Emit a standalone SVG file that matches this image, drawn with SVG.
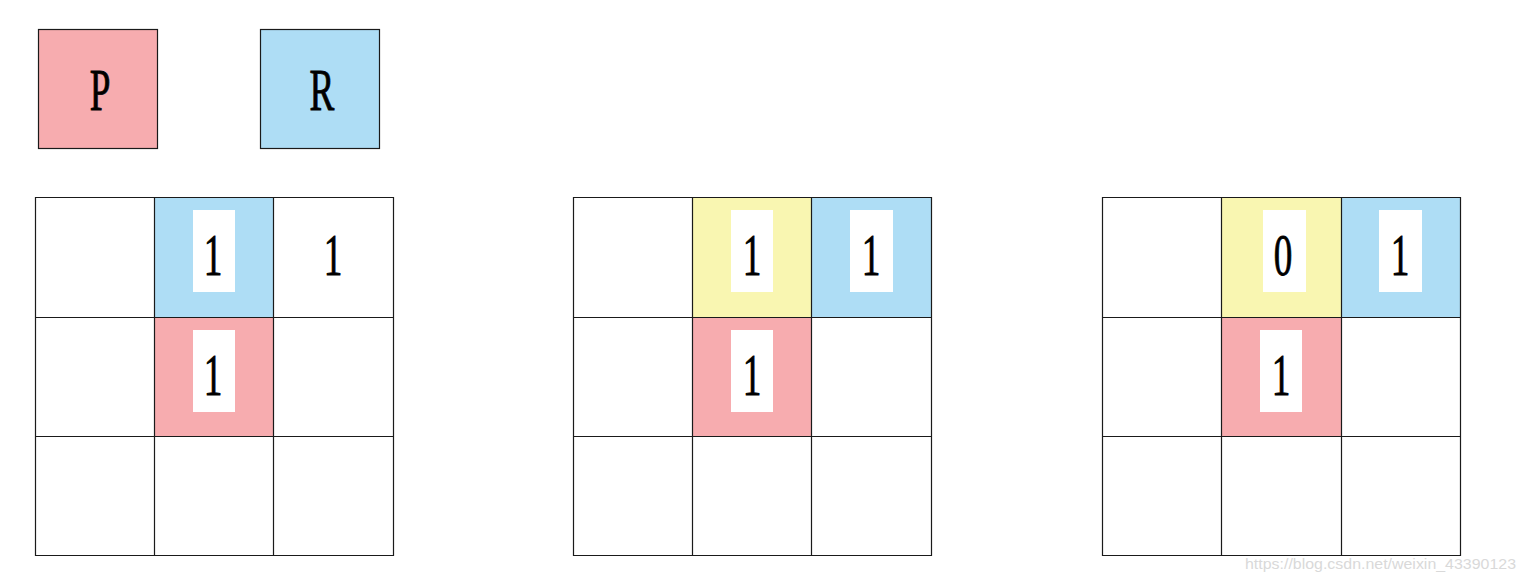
<svg xmlns="http://www.w3.org/2000/svg" width="1526" height="582" viewBox="0 0 1526 582">
<style>
.p{fill:#F7ACAF}
.r{fill:#AEDDF5}
.y{fill:#F9F6B1}
.w{fill:#FFFFFF}
.grid{fill:none;stroke:#1a1a1a;stroke-width:1.2}
.box{stroke:#1a1a1a;stroke-width:1.2}
.t{font-size:60px;fill:#000;stroke:#000;stroke-width:0.9;text-anchor:middle}
.wm{font-family:"Liberation Sans",Arial,sans-serif;font-size:15px;fill:#d9d9d9}
</style>
<rect width="1526" height="582" fill="#fff"/>

<g id="legend-P" font-family="'Liberation Serif', 'Times New Roman', serif">
<rect class="p box" x="38.5" y="29.5" width="119" height="119"/>
<text class="t" transform="translate(100,110) scale(0.62,1)">P</text>
</g>
<g id="legend-R" font-family="'Liberation Serif', 'Times New Roman', serif">
<rect class="r box" x="260.5" y="29.5" width="119" height="119"/>
<text class="t" transform="translate(322,110) scale(0.62,1)">R</text>
</g>

<g id="grid1" font-family="'Liberation Serif', 'Times New Roman', serif">
<rect class="r" x="154.5" y="197.5" width="119" height="120"/>
<rect class="p" x="154.5" y="317.5" width="119" height="119"/>
<rect class="w" x="193" y="210" width="42" height="82"/>
<rect class="w" x="193" y="330" width="42" height="82"/>
<text class="t" transform="translate(213,275) scale(0.62,1)">1</text>
<text class="t" transform="translate(213,395) scale(0.62,1)">1</text>
<text class="t" transform="translate(333,275) scale(0.62,1)">1</text>
<path class="grid" d="M35.5 197.5H393.5V555.5H35.5Z M154.5 197.5V555.5 M273.5 197.5V555.5 M35.5 317.5H393.5 M35.5 436.5H393.5"/>
</g>

<g id="grid2" font-family="'Liberation Serif', 'Times New Roman', serif">
<rect class="y" x="692.5" y="197.5" width="119" height="120"/>
<rect class="r" x="811.5" y="197.5" width="120" height="120"/>
<rect class="p" x="692.5" y="317.5" width="119" height="119"/>
<rect class="w" x="731" y="210" width="42" height="82"/>
<rect class="w" x="850" y="210" width="43" height="82"/>
<rect class="w" x="731" y="330" width="42" height="82"/>
<text class="t" transform="translate(752,275) scale(0.62,1)">1</text>
<text class="t" transform="translate(871,275) scale(0.62,1)">1</text>
<text class="t" transform="translate(752,395) scale(0.62,1)">1</text>
<path class="grid" d="M573.5 197.5H931.5V555.5H573.5Z M692.5 197.5V555.5 M811.5 197.5V555.5 M573.5 317.5H931.5 M573.5 436.5H931.5"/>
</g>

<g id="grid3" font-family="'Liberation Serif', 'Times New Roman', serif">
<rect class="y" x="1221.5" y="197.5" width="120" height="120"/>
<rect class="r" x="1341.5" y="197.5" width="119" height="120"/>
<rect class="p" x="1221.5" y="317.5" width="120" height="119"/>
<rect class="w" x="1263" y="210" width="43" height="82"/>
<rect class="w" x="1379" y="210" width="43" height="82"/>
<rect class="w" x="1260" y="330" width="42" height="82"/>
<text class="t" transform="translate(1283,275) scale(0.62,1)">0</text>
<text class="t" transform="translate(1400,275) scale(0.62,1)">1</text>
<text class="t" transform="translate(1281,395) scale(0.62,1)">1</text>
<path class="grid" d="M1102.5 197.5H1460.5V555.5H1102.5Z M1221.5 197.5V555.5 M1341.5 197.5V555.5 M1102.5 317.5H1460.5 M1102.5 436.5H1460.5"/>
</g>

<text class="wm" x="1245" y="569" textLength="271" lengthAdjust="spacingAndGlyphs">https://blog.csdn.net/weixin_43390123</text>
</svg>
